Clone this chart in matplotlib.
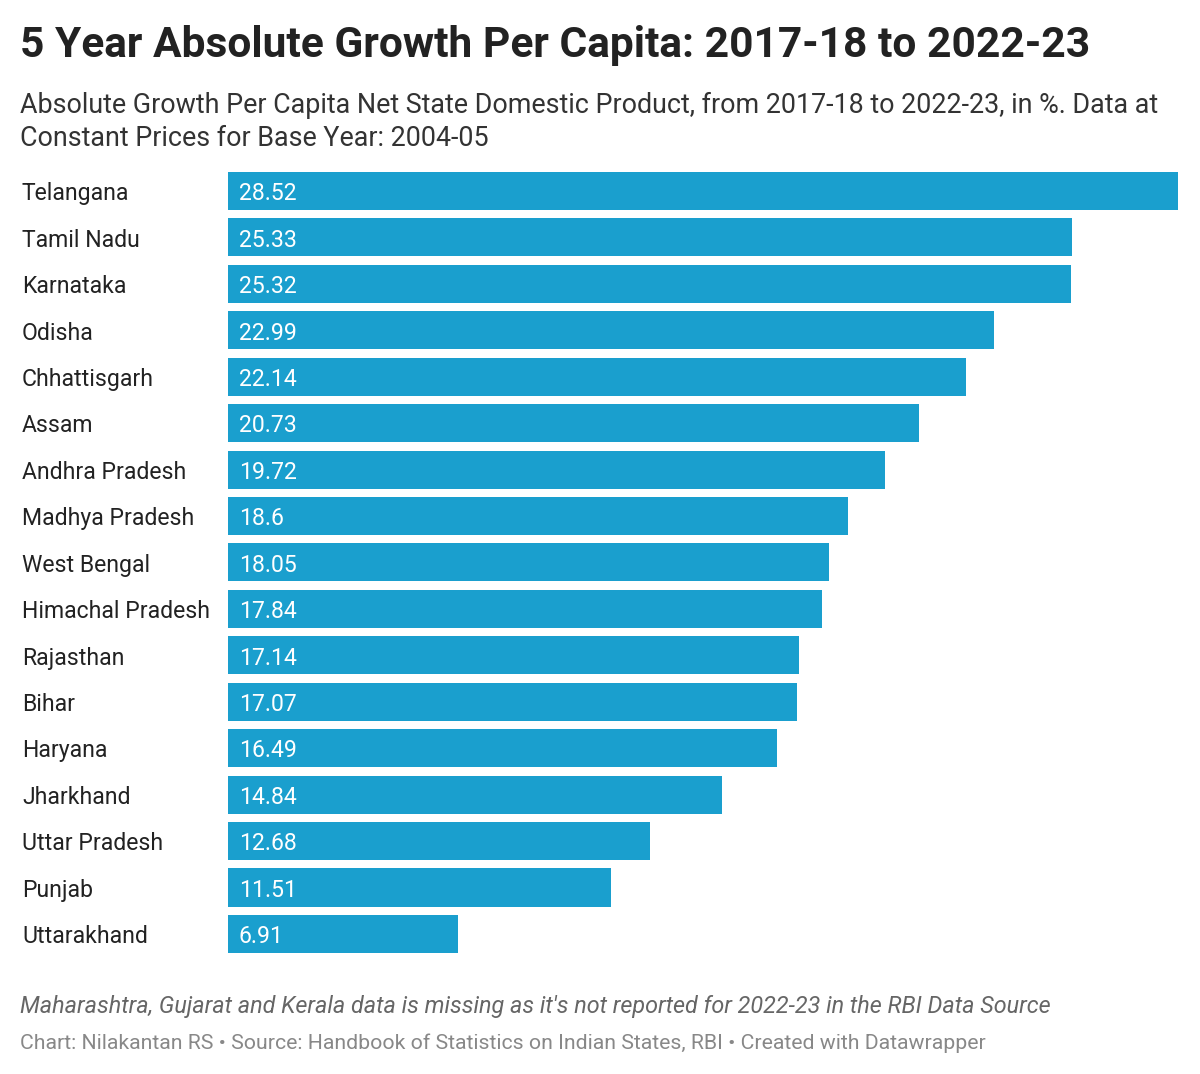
import matplotlib
matplotlib.use("Agg")
import matplotlib.pyplot as plt
from matplotlib.transforms import blended_transform_factory

states = ["Telangana", "Tamil Nadu", "Karnataka", "Odisha", "Chhattisgarh", "Assam",
          "Andhra Pradesh", "Madhya Pradesh", "West Bengal", "Himachal Pradesh",
          "Rajasthan", "Bihar", "Haryana", "Jharkhand", "Uttar Pradesh", "Punjab",
          "Uttarakhand"]
values = [28.52, 25.33, 25.32, 22.99, 22.14, 20.73, 19.72, 18.6, 18.05, 17.84,
          17.14, 17.07, 16.49, 14.84, 12.68, 11.51, 6.91]
value_labels = ["28.52", "25.33", "25.32", "22.99", "22.14", "20.73", "19.72", "18.6",
                "18.05", "17.84", "17.14", "17.07", "16.49", "14.84", "12.68", "11.51", "6.91"]

plt.rcParams['font.family'] = ['Roboto', 'DejaVu Sans']

fig = plt.figure(figsize=(12, 10.74), dpi=100)
fig.patch.set_facecolor("white")
ax = fig.add_axes([0.19, 0.1088, 0.7917, 0.735])

ypos = list(range(len(states)))
ax.barh(ypos, values, height=0.82, color="#1a9fce")
ax.set_xlim(0, 28.52)
ax.set_ylim(len(states) - 0.5, -0.5)
ax.axis("off")

trans = blended_transform_factory(fig.transFigure, ax.transData)
for y, s, v, vl in zip(ypos, states, values, value_labels):
    ax.text(22 / 1200, y + 0.06, s, transform=trans, ha="left", va="center",
            fontsize=16.6, color="#222222")
    ax.text(0.33, y + 0.06, vl, ha="left", va="center", fontsize=16.6, color="white")

fig.text(20 / 1200, 1 - 46 / 1074, "5 Year Absolute Growth Per Capita: 2017-18 to 2022-23",
         ha="left", va="center", fontsize=30.6, fontweight="bold", color="#222222")
fig.text(20 / 1200, 1 - 105 / 1074,
         "Absolute Growth Per Capita Net State Domestic Product, from 2017-18 to 2022-23, in %. Data at",
         ha="left", va="center", fontsize=19.4, color="#333333")
fig.text(20 / 1200, 1 - 138 / 1074, "Constant Prices for Base Year: 2004-05",
         ha="left", va="center", fontsize=19.4, color="#333333")
fig.text(20 / 1200, 1 - 1007 / 1074,
         "Maharashtra, Gujarat and Kerala data is missing as it's not reported for 2022-23 in the RBI Data Source",
         ha="left", va="center", fontsize=16.8, style="italic", color="#666666")
fig.text(20 / 1200, 1 - 1043 / 1074,
         "Chart: Nilakantan RS \u2022 Source: Handbook of Statistics on Indian States, RBI \u2022 Created with Datawrapper",
         ha="left", va="center", fontsize=15.3, color="#888888")

fig.savefig("out.png", dpi=100, facecolor="white")
